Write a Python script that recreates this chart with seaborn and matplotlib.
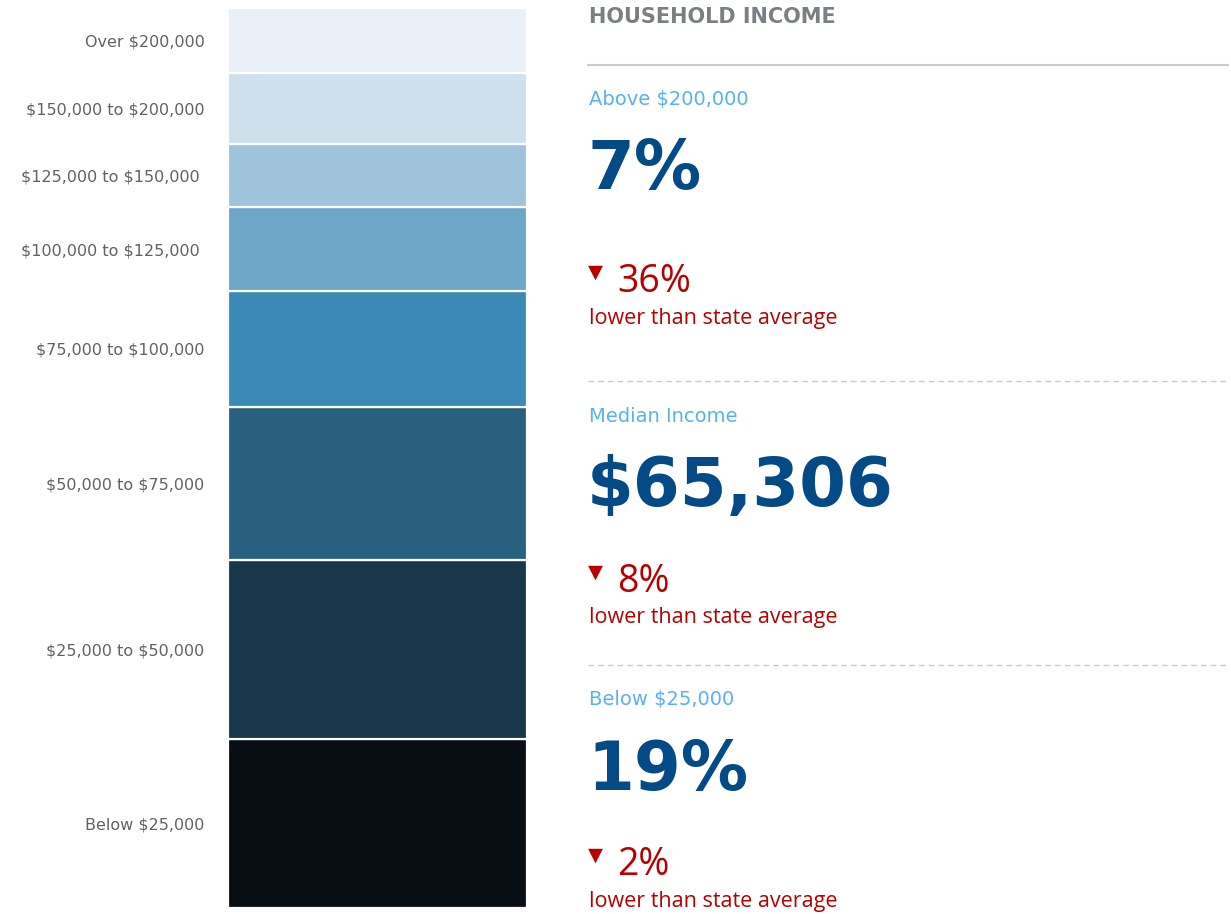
import matplotlib.pyplot as plt
import seaborn as sns

# segment data, bottom to top (percent of households)
brackets = ['Below $25,000', '$25,000 to $50,000', '$50,000 to $75,000',
            '$75,000 to $100,000', '$100,000 to $125,000 ', '$125,000 to $150,000 ',
            '$150,000 to $200,000', 'Over $200,000']
shares = [18.6, 19.8, 16.9, 12.8, 9.2, 7.0, 7.8, 7.2]
colors = ['#070e14', '#19374a', '#29607f', '#3b8ab5',
          '#6ea6c7', '#9fc3da', '#cde0eb', '#e9f0f7']

# right hand panel
stat_titles = ['Above $200,000', 'Median Income', 'Below $25,000']
stat_values = ['7%', '$65,306', '19%']
stat_diffs = ['36%', '8%', '2%']

W, H = 1231, 914
sns.set_style('white')
fig = plt.figure(figsize=(W / 100, H / 100), dpi=100)
ax = fig.add_axes([228 / W, 1 - 908 / H, 299 / W, 900 / H])

bottom = 0
centers = []
for lab, val, col in zip(brackets, shares, colors):
    sns.barplot(x=[0], y=[val], bottom=bottom, color=col, width=1,
                edgecolor='white', linewidth=1.6, ax=ax, saturation=1)
    centers.append(bottom + val / 2)
    bottom += val

ax.set_xlim(-0.5, 0.5)
ax.set_ylim(0, bottom)
ax.set_xticks([])
ax.set_yticks(centers)
# escape the dollar signs so mathtext leaves them alone
ax.set_yticklabels([b.replace('$', r'\$') for b in brackets], fontsize=11.5,
                   color='#5f6266', family='DejaVu Sans', fontweight='medium')
ax.tick_params(axis='y', length=0, pad=17)
ax.set_ylabel('')
for s in ax.spines.values():
    s.set_visible(False)


def fx(px):
    return px / W


def fy(py):
    return 1 - py / H


fig.text(fx(589), fy(17), 'HOUSEHOLD INCOME', fontsize=15, color='#7a7f84',
         fontweight='bold', family='DejaVu Sans', va='center')
fig.add_artist(plt.Line2D([fx(588), fx(1228)], [fy(65), fy(65)], color='#c8ccd0', lw=1.5))

title_y = [100, 416, 700]
value_y = [170, 487, 771]
diff_y = [280, 580, 863]
note_y = [317, 617, 900]
for i in range(3):
    fig.text(fx(589), fy(title_y[i]), stat_titles[i].replace('$', r'\$'), fontsize=14,
             color='#59b1f5', family='DejaVu Sans', va='center')
    fig.text(fx(587), fy(value_y[i]), stat_values[i].replace('$', r'\$'), fontsize=48.5,
             color='#044a87', fontweight='heavy', family='DejaVu Sans', va='center')
    fig.text(fx(588), fy(diff_y[i] - 8), '\u25bc', fontsize=14, color='#b80000',
             family='DejaVu Sans', va='center')
    fig.text(fx(617), fy(diff_y[i] + 2), stat_diffs[i], fontsize=27, color='#b80000',
             family=['Open Sans', 'DejaVu Sans'], va='center')
    fig.text(fx(589), fy(note_y[i] + 1), 'lower than state average', fontsize=15.5,
             color='#b80000', family=['Open Sans', 'DejaVu Sans'], va='center')

for y in [381, 665]:
    fig.add_artist(plt.Line2D([fx(588), fx(1228)], [fy(y), fy(y)], color='#cccccc',
                              lw=1, ls=(0, (4, 3))))

fig.savefig('out.png', dpi=100)
